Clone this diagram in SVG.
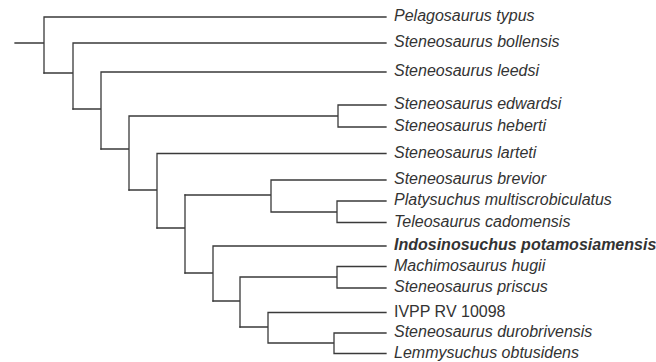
<svg xmlns="http://www.w3.org/2000/svg" width="656" height="362" viewBox="0 0 656 362">
<style>
.br{fill:none;stroke:#3a3a3a;stroke-width:1.3;stroke-linecap:square}
.lb{font-family:"Liberation Sans",Arial,sans-serif;font-size:16px;fill:#333;font-style:italic}
.n{font-style:normal}
.b{font-weight:bold}
</style>
<rect width="656" height="362" fill="#fff"/>
<g id="connectors">
<path class="br" d="M15,43H44M44,17V73M44,17H386"/>
<path class="br" d="M44,73H73M73,43V109M73,43H386"/>
<path class="br" d="M73,109H101M101,72V149M101,72H386"/>
<path class="br" d="M101,149H129M129,116V190M129,116H338M338,105V127M338,105H386M338,127H386"/>
<path class="br" d="M129,190H157M157,153.5V228M157,153.5H386"/>
<path class="br" d="M157,228H185M185,195V273"/>
<path class="br" d="M185,195H271M271,180V212M271,180H386M271,212H337M337,201V222.5M337,201H386M337,222.5H386"/>
<path class="br" d="M185,273H213M213,246V301M213,246H386"/>
<path class="br" d="M213,301H240M240,277V327M240,277H337M337,266.5V288M337,266.5H386M337,288H386"/>
<path class="br" d="M240,327H268M268,312.5V343M268,312.5H386M268,343H334M334,333V353.5M334,333H386M334,353.5H386"/>
</g>
<g id="leaf-pelagosaurus"><text class="lb" x="394" y="21">Pelagosaurus typus</text></g>
<g id="leaf-bollensis"><text class="lb" x="394" y="47">Steneosaurus bollensis</text></g>
<g id="leaf-leedsi"><text class="lb" x="394" y="76">Steneosaurus leedsi</text></g>
<g id="leaf-edwardsi"><text class="lb" x="394" y="109">Steneosaurus edwardsi</text></g>
<g id="leaf-heberti"><text class="lb" x="394" y="131">Steneosaurus heberti</text></g>
<g id="leaf-larteti"><text class="lb" x="394" y="157.5">Steneosaurus larteti</text></g>
<g id="leaf-brevior"><text class="lb" x="394" y="184">Steneosaurus brevior</text></g>
<g id="leaf-platysuchus"><text class="lb" x="394" y="205">Platysuchus multiscrobiculatus</text></g>
<g id="leaf-teleosaurus"><text class="lb" x="394" y="226.5">Teleosaurus cadomensis</text></g>
<g id="leaf-indosinosuchus"><text class="lb b" x="394" y="250">Indosinosuchus potamosiamensis</text></g>
<g id="leaf-machimosaurus"><text class="lb" x="394" y="270.5">Machimosaurus hugii</text></g>
<g id="leaf-priscus"><text class="lb" x="394" y="292">Steneosaurus priscus</text></g>
<g id="leaf-ivpp"><text class="lb n" x="394" y="316.5">IVPP RV 10098</text></g>
<g id="leaf-durobrivensis"><text class="lb" x="394" y="337">Steneosaurus durobrivensis</text></g>
<g id="leaf-lemmysuchus"><text class="lb" x="394" y="357.5">Lemmysuchus obtusidens</text></g>
</svg>
